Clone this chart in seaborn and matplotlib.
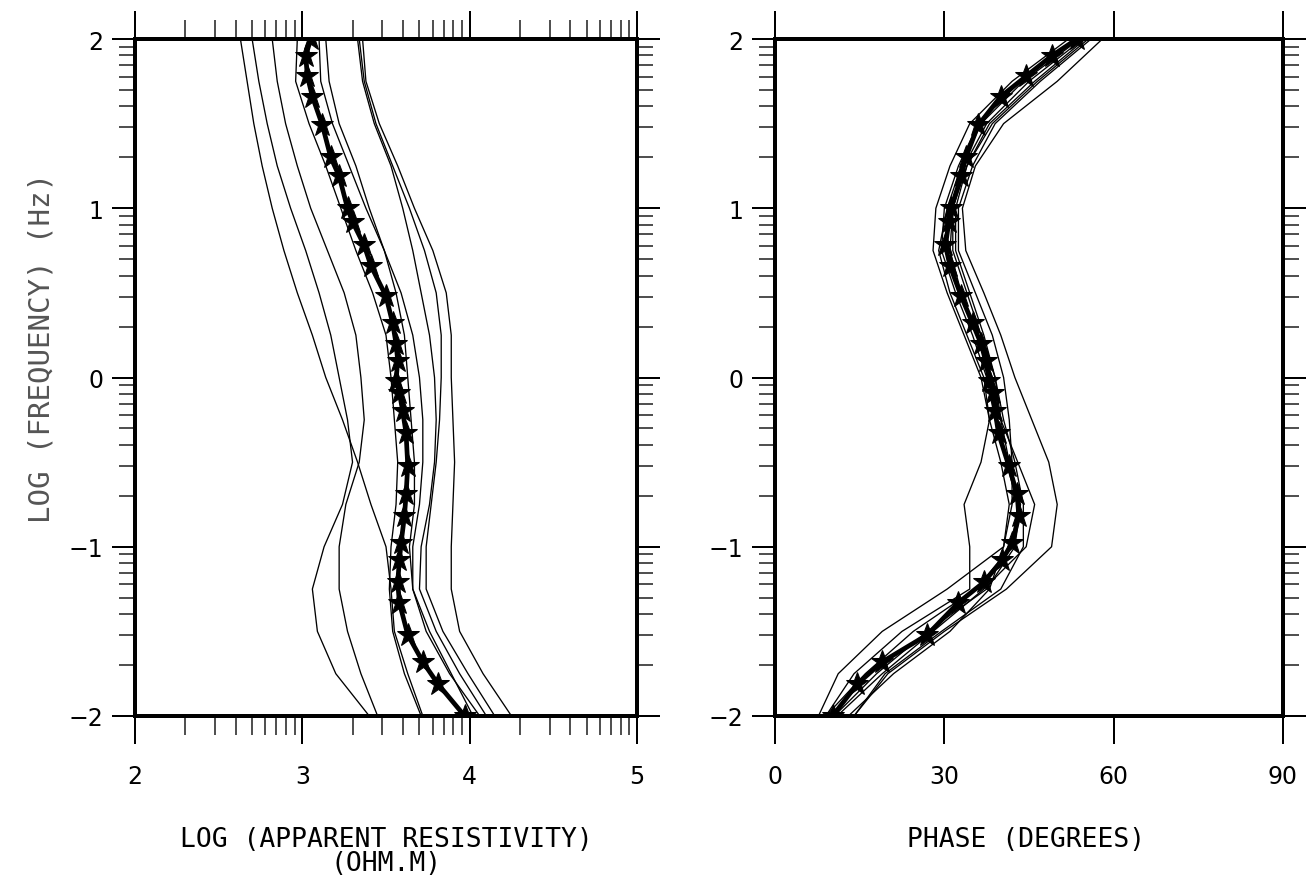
import numpy as np
import pandas as pd
import matplotlib
matplotlib.use("Agg")
import matplotlib.pyplot as plt
from matplotlib.ticker import FixedLocator
import seaborn as sns

# ---------------- data ----------------
# star (thick) curve: log frequency, log apparent resistivity, phase
logf_star = [2.0, 1.9, 1.78, 1.66, 1.49, 1.30, 1.19, 1.0, 0.92, 0.78, 0.66, 0.48, 0.32, 0.20, 0.10,
             -0.02, -0.09, -0.20, -0.33, -0.52, -0.69, -0.82, -0.98, -1.08, -1.21, -1.33, -1.52,
             -1.68, -1.81, -2.0]
rho_star = [3.05, 3.02, 3.03, 3.06, 3.12, 3.17, 3.22, 3.27, 3.30, 3.37, 3.41, 3.50, 3.54, 3.56, 3.57,
            3.56, 3.58, 3.60, 3.62, 3.63, 3.62, 3.61, 3.59, 3.58, 3.57, 3.58, 3.63, 3.72, 3.81, 3.97]
phase_star = [53.5, 49.0, 44.5, 40.0, 36.0, 33.8, 33.0, 31.2, 30.8, 30.2, 31.0, 33.0, 35.0, 36.5, 37.3,
              38.0, 38.6, 39.0, 39.6, 41.4, 42.9, 43.2, 42.0, 40.2, 37.0, 32.5, 27.0, 19.0, 14.6, 10.2]

# thin curves (individual models), sampled at these log frequencies
logf_thin = [2.0, 1.75, 1.5, 1.25, 1.0, 0.75, 0.5, 0.25, 0.0, -0.25, -0.5, -0.75, -1.0, -1.25, -1.5, -1.75, -2.0]

rho_1 = [2.63, 2.67, 2.71, 2.76, 2.82, 2.89, 2.97, 3.06, 3.14, 3.24, 3.33, 3.41, 3.50, 3.53, 3.55, 3.63, 3.72]
rho_2 = [2.82, 2.85, 2.90, 2.97, 3.05, 3.15, 3.25, 3.32, 3.35, 3.37, 3.34, 3.26, 3.22, 3.22, 3.27, 3.35, 3.45]
rho_3 = [2.70, 2.74, 2.79, 2.85, 2.93, 3.02, 3.10, 3.17, 3.22, 3.27, 3.30, 3.24, 3.13, 3.06, 3.09, 3.20, 3.40]
rho_4 = [2.97, 2.96, 3.04, 3.14, 3.23, 3.32, 3.42, 3.50, 3.53, 3.55, 3.57, 3.56, 3.53, 3.52, 3.54, 3.61, 3.71]
rho_5 = [3.14, 3.16, 3.22, 3.32, 3.40, 3.49, 3.56, 3.61, 3.63, 3.65, 3.67, 3.67, 3.64, 3.66, 3.76, 3.89, 4.02]
rho_6 = [3.10, 3.11, 3.18, 3.28, 3.38, 3.49, 3.59, 3.66, 3.70, 3.72, 3.72, 3.70, 3.66, 3.66, 3.74, 3.88, 4.06]
rho_7 = [3.33, 3.36, 3.43, 3.53, 3.60, 3.66, 3.71, 3.76, 3.79, 3.80, 3.79, 3.76, 3.71, 3.70, 3.80, 3.94, 4.10]
rho_8 = [3.34, 3.37, 3.44, 3.54, 3.64, 3.73, 3.80, 3.83, 3.83, 3.82, 3.80, 3.77, 3.74, 3.74, 3.84, 3.99, 4.15]
rho_9 = [3.36, 3.38, 3.46, 3.57, 3.67, 3.78, 3.86, 3.89, 3.89, 3.90, 3.91, 3.90, 3.89, 3.89, 3.94, 4.08, 4.25]

ph_1 = [58.0, 50.0, 40.5, 35.5, 33.2, 33.8, 37.0, 40.0, 42.5, 45.5, 48.5, 50.0, 49.0, 41.0, 30.0, 20.0, 14.0]
ph_2 = [55.0, 46.0, 38.0, 34.0, 31.5, 31.0, 33.0, 36.0, 38.5, 40.0, 43.0, 46.0, 44.5, 37.0, 28.0, 19.0, 11.0]
ph_3 = [54.0, 44.0, 36.5, 33.0, 30.5, 29.0, 31.0, 34.0, 37.0, 38.0, 36.5, 33.5, 34.5, 34.5, 22.5, 14.0, 9.0]
ph_4 = [52.0, 42.0, 34.5, 31.0, 28.5, 28.0, 30.5, 33.5, 36.5, 38.0, 40.0, 41.5, 40.5, 30.5, 19.0, 11.2, 7.7]
ph_5 = [53.0, 43.5, 36.0, 32.5, 30.0, 29.5, 32.0, 35.0, 37.5, 39.0, 41.0, 43.0, 42.0, 35.5, 24.5, 16.0, 9.0]
ph_6 = [54.5, 45.0, 37.5, 33.5, 31.5, 31.5, 34.0, 36.5, 39.0, 40.0, 41.5, 43.5, 42.5, 37.5, 27.0, 18.0, 10.5]
ph_7 = [56.0, 47.0, 39.0, 35.0, 32.5, 32.5, 35.5, 38.5, 40.5, 41.5, 42.0, 42.0, 40.5, 38.0, 31.0, 21.0, 13.0]
ph_8 = [55.5, 46.5, 38.5, 34.0, 32.0, 32.0, 34.5, 37.0, 39.0, 40.5, 42.5, 44.0, 44.0, 40.0, 29.5, 19.5, 14.0]

rho_curves = [rho_1, rho_2, rho_3, rho_4, rho_5, rho_6, rho_7, rho_8, rho_9]
ph_curves = [ph_1, ph_2, ph_3, ph_4, ph_5, ph_6, ph_7, ph_8]

rho_ticks = [2, 3, 4, 5]
phase_ticks = [0, 30, 60, 90]
logf_ticks = [-2, -1, 0, 1, 2]

# ---------------- frames ----------------
df_rho = pd.DataFrame([
    {"curve": i, "order": j, "logf": f, "val": v}
    for i, c in enumerate(rho_curves) for j, (f, v) in enumerate(zip(logf_thin, c))
])
df_ph = pd.DataFrame([
    {"curve": i, "order": j, "logf": f, "val": v}
    for i, c in enumerate(ph_curves) for j, (f, v) in enumerate(zip(logf_thin, c))
])
df_star = pd.DataFrame({"logf": logf_star, "rho": rho_star, "phase": phase_star})

# ---------------- style ----------------
sns.set_style("ticks")
plt.rcParams["font.family"] = ["DejaVu Sans"]
plt.rcParams["text.color"] = "black"

PT = 72 / 100  # points per pixel at dpi 100

fig = plt.figure(figsize=(13.08, 8.87), dpi=100)
ax1 = fig.add_axes([135 / 1308, (887 - 717) / 887, (637 - 135) / 1308, 677 / 887])
ax2 = fig.add_axes([775 / 1308, (887 - 717) / 887, (1283 - 775) / 1308, 677 / 887])

thin_kw = dict(color="black", linewidth=0.95, estimator=None, sort=False, legend=False)
star_kw = dict(color="black", linewidth=3.4, marker="*", markersize=17,
               markeredgecolor="black", markerfacecolor="black", sort=False, estimator=None)

sns.lineplot(data=df_rho, x="val", y="logf", units="curve", ax=ax1, **thin_kw)
sns.lineplot(data=df_star, x="rho", y="logf", ax=ax1, **star_kw)

sns.lineplot(data=df_ph, x="val", y="logf", units="curve", ax=ax2, **thin_kw)
sns.lineplot(data=df_star, x="phase", y="logf", ax=ax2, **star_kw)

minor_y = [n + np.log10(k) for n in range(-2, 2) for k in range(2, 10)]
minor_x = [n + np.log10(k) for n in range(2, 5) for k in range(2, 10)]


def fmt(t):
    return str(t).replace("-", "\u2212")


for ax in (ax1, ax2):
    ax.set_ylim(-2, 2)
    ax.yaxis.set_major_locator(FixedLocator(logf_ticks))
    ax.yaxis.set_minor_locator(FixedLocator(minor_y))
    ax.set_yticklabels([fmt(t) for t in logf_ticks])
    for s in ax.spines.values():
        s.set_linewidth(4.0 * PT)
        s.set_visible(True)
        s.set_color("black")
    ax.tick_params(axis="x", which="major", direction="out", length=28 * PT, width=2.0 * PT,
                   top=True, bottom=True, labeltop=False, labelsize=17, colors="black",
                   pad=20 * PT)
    ax.tick_params(axis="x", which="minor", direction="out", length=19 * PT, width=1.6 * PT,
                   top=True, bottom=True)
    ax.tick_params(axis="y", which="major", direction="out", length=23 * PT, width=2.0 * PT,
                   left=True, right=True, labelright=False, labelsize=17, colors="black",
                   pad=9 * PT)
    ax.tick_params(axis="y", which="minor", direction="out", length=16 * PT, width=1.6 * PT,
                   left=True, right=True)
    ax.set_ylabel("")
    ax.set_xlabel("")
    ax.set_facecolor("white")

ax1.set_xlim(2, 5)
ax1.xaxis.set_major_locator(FixedLocator(rho_ticks))
ax1.xaxis.set_minor_locator(FixedLocator(minor_x))
ax1.set_xticklabels([fmt(t) for t in rho_ticks])

ax2.set_xlim(0, 90)
ax2.xaxis.set_major_locator(FixedLocator(phase_ticks))
ax2.set_xticklabels([fmt(t) for t in phase_ticks])
ax2.xaxis.set_minor_locator(FixedLocator([]))

fig.text(42 / 1308, 1 - 348 / 887, "LOG (FREQUENCY) (Hz)", rotation=90, ha="center", va="center",
         fontsize=21, color="#555555", family=["DejaVu Sans Mono"])
fig.text(386 / 1308, 1 - 840 / 887, "LOG (APPARENT RESISTIVITY)", ha="center", va="center",
         fontsize=19, color="black", family=["DejaVu Sans Mono"])
fig.text(386 / 1308, 1 - 864 / 887, "(OHM.M)", ha="center", va="center",
         fontsize=19, color="black", family=["DejaVu Sans Mono"])
fig.text(1026 / 1308, 1 - 840 / 887, "PHASE (DEGREES)", ha="center", va="center",
         fontsize=19, color="black", family=["DejaVu Sans Mono"])

fig.savefig("out.png", dpi=100, facecolor="white")
